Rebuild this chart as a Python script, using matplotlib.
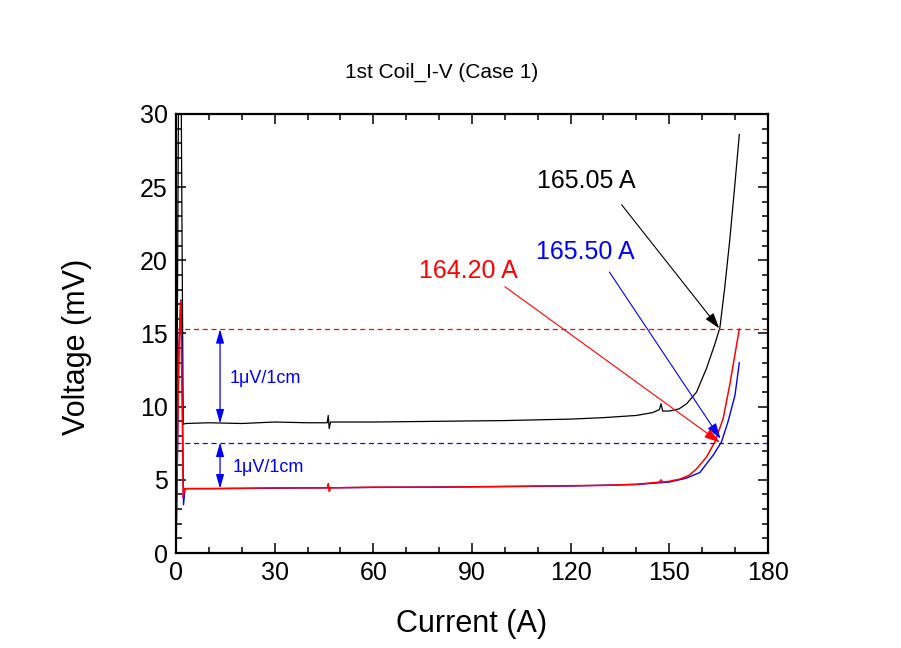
import matplotlib.pyplot as plt
from matplotlib.ticker import MultipleLocator

plt.rcParams["font.family"] = ["Liberation Sans", "DejaVu Sans"]

# black trace (165.05 A)
black_i = [0.0, 0.3, 0.8, 1.2, 1.6, 2.2, 3, 10, 20, 30, 40, 46, 46.3, 46.6, 47,
           60, 80, 100, 110, 120, 130, 140, 145, 147, 147.5, 148, 150, 153,
           155.3, 158.3, 161.3, 163.9, 165.4, 166.9, 168.4, 170, 171.3]
black_v = [9.5, 10.5, 32, 32, 31, 8.8, 8.85, 8.9, 8.85, 8.95, 8.9, 8.9, 9.4, 8.5, 8.95,
           8.95, 9.0, 9.05, 9.1, 9.15, 9.25, 9.4, 9.6, 9.8, 10.2, 9.7, 9.7, 9.85,
           10.2, 11.0, 12.6, 14.3, 15.4, 18.2, 21.4, 25.3, 28.6]

# blue trace (165.50 A)
blue_i = [0.0, 0.4, 0.9, 1.5, 1.9, 2.3, 2.7, 3.2, 10, 30, 60, 90, 120, 140, 150,
          155, 159.3, 163.4, 165.9, 167.9, 170, 171.3]
blue_v = [0.0, 6, 14, 17.3, 12, 3.3, 4.3, 4.4, 4.4, 4.43, 4.48, 4.52, 4.58, 4.68, 4.85,
          5.1, 5.5, 6.7, 7.6, 9.0, 10.8, 13.0]

# red trace (164.20 A)
red_i = [0.0, 0.4, 0.9, 1.4, 1.8, 2.2, 2.6, 3.2, 10, 20, 30, 40, 46, 46.3, 46.6, 47,
         60, 80, 100, 120, 130, 140, 145, 147, 147.5, 148, 150, 153.2, 156, 158.3,
         161.3, 163.9, 166.4, 168.4, 170, 171.3]
red_v = [0.0, 6, 14, 17.2, 12, 3.8, 4.4, 4.4, 4.4, 4.42, 4.45, 4.45, 4.45, 4.75, 4.2, 4.45,
         4.5, 4.5, 4.55, 4.6, 4.62, 4.7, 4.8, 4.85, 5.0, 4.85, 4.9, 5.05, 5.3, 5.75,
         6.55, 7.6, 9.2, 11.5, 13.6, 15.3]

upper_ref = 15.3
lower_ref = 7.55
quench_labels = ["165.05 A", "165.50 A", "164.20 A"]
quench_colors = ["black", "#0000ff", "#ff0000"]
label_pos = [(124.8, 25.4), (124.4, 20.55), (88.9, 19.3)]
arrow_start = [(135.5, 23.8), (131.8, 19.2), (100.0, 18.2)]
arrow_tip = [(165.2, 15.35), (165.6, 7.8), (165.4, 7.55)]

fig = plt.figure(figsize=(9.01, 6.48), dpi=100)
ax = fig.add_axes([0.1953, 0.1466, 0.657, 0.6775])

ax.plot(black_i, black_v, color="black", lw=0.9)
ax.plot(blue_i, blue_v, color="#0000ff", lw=1.0)
ax.plot(red_i, red_v, color="#ff0000", lw=1.1)

ax.axhline(upper_ref, color="#ff0000", lw=0.9, ls=(0, (4, 3)))
ax.axhline(lower_ref, color="#1010c0", lw=0.9, ls=(0, (4, 3)))

# 1 uV/cm criterion markers
dbl = dict(arrowstyle="<|-|>,head_length=0.7,head_width=0.2", color="#0000ff",
           lw=0.9, mutation_scale=12, shrinkA=0, shrinkB=0)
ax.annotate("", xy=(13.4, upper_ref), xytext=(13.4, black_v[6]), arrowprops=dbl)
ax.annotate("", xy=(13.4, lower_ref), xytext=(13.4, red_v[7]), arrowprops=dbl)
ax.text(16.4, 11.95, "1\u03bcV/1cm", color="#0000ff", fontsize=13, va="center")
ax.text(17.2, 5.86, "1\u03bcV/1cm", color="#0000ff", fontsize=13, va="center")

for lab, col, pos, st, tip in zip(quench_labels, quench_colors, label_pos,
                                  arrow_start, arrow_tip):
    ax.text(pos[0], pos[1], lab, color=col, fontsize=18, ha="center", va="center")
    ax.annotate("", xy=tip, xytext=st,
                arrowprops=dict(arrowstyle="-|>,head_length=0.8,head_width=0.25",
                                color=col, lw=0.8, mutation_scale=12,
                                shrinkA=0, shrinkB=0))

ax.set_xlim(0, 180)
ax.set_ylim(0, 30)
ax.xaxis.set_major_locator(MultipleLocator(30))
ax.xaxis.set_minor_locator(MultipleLocator(10))
ax.yaxis.set_major_locator(MultipleLocator(5))
ax.yaxis.set_minor_locator(MultipleLocator(1))
ax.tick_params(which="both", direction="in", top=True, right=True, width=1.1)
ax.tick_params(which="major", length=7, labelsize=18, pad=6)
ax.tick_params(which="minor", length=4)
for s in ax.spines.values():
    s.set_linewidth(1.6)

ax.set_xlabel("Current (A)", fontsize=22, labelpad=17)
ax.set_ylabel("Voltage (mV)", fontsize=22)
ax.yaxis.set_label_coords(-0.142, 0.47)

fig.text(0.4906, 0.889, "1st Coil_I-V (Case 1)", fontsize=15, ha="center", va="center")

fig.savefig("out.png", dpi=100)
